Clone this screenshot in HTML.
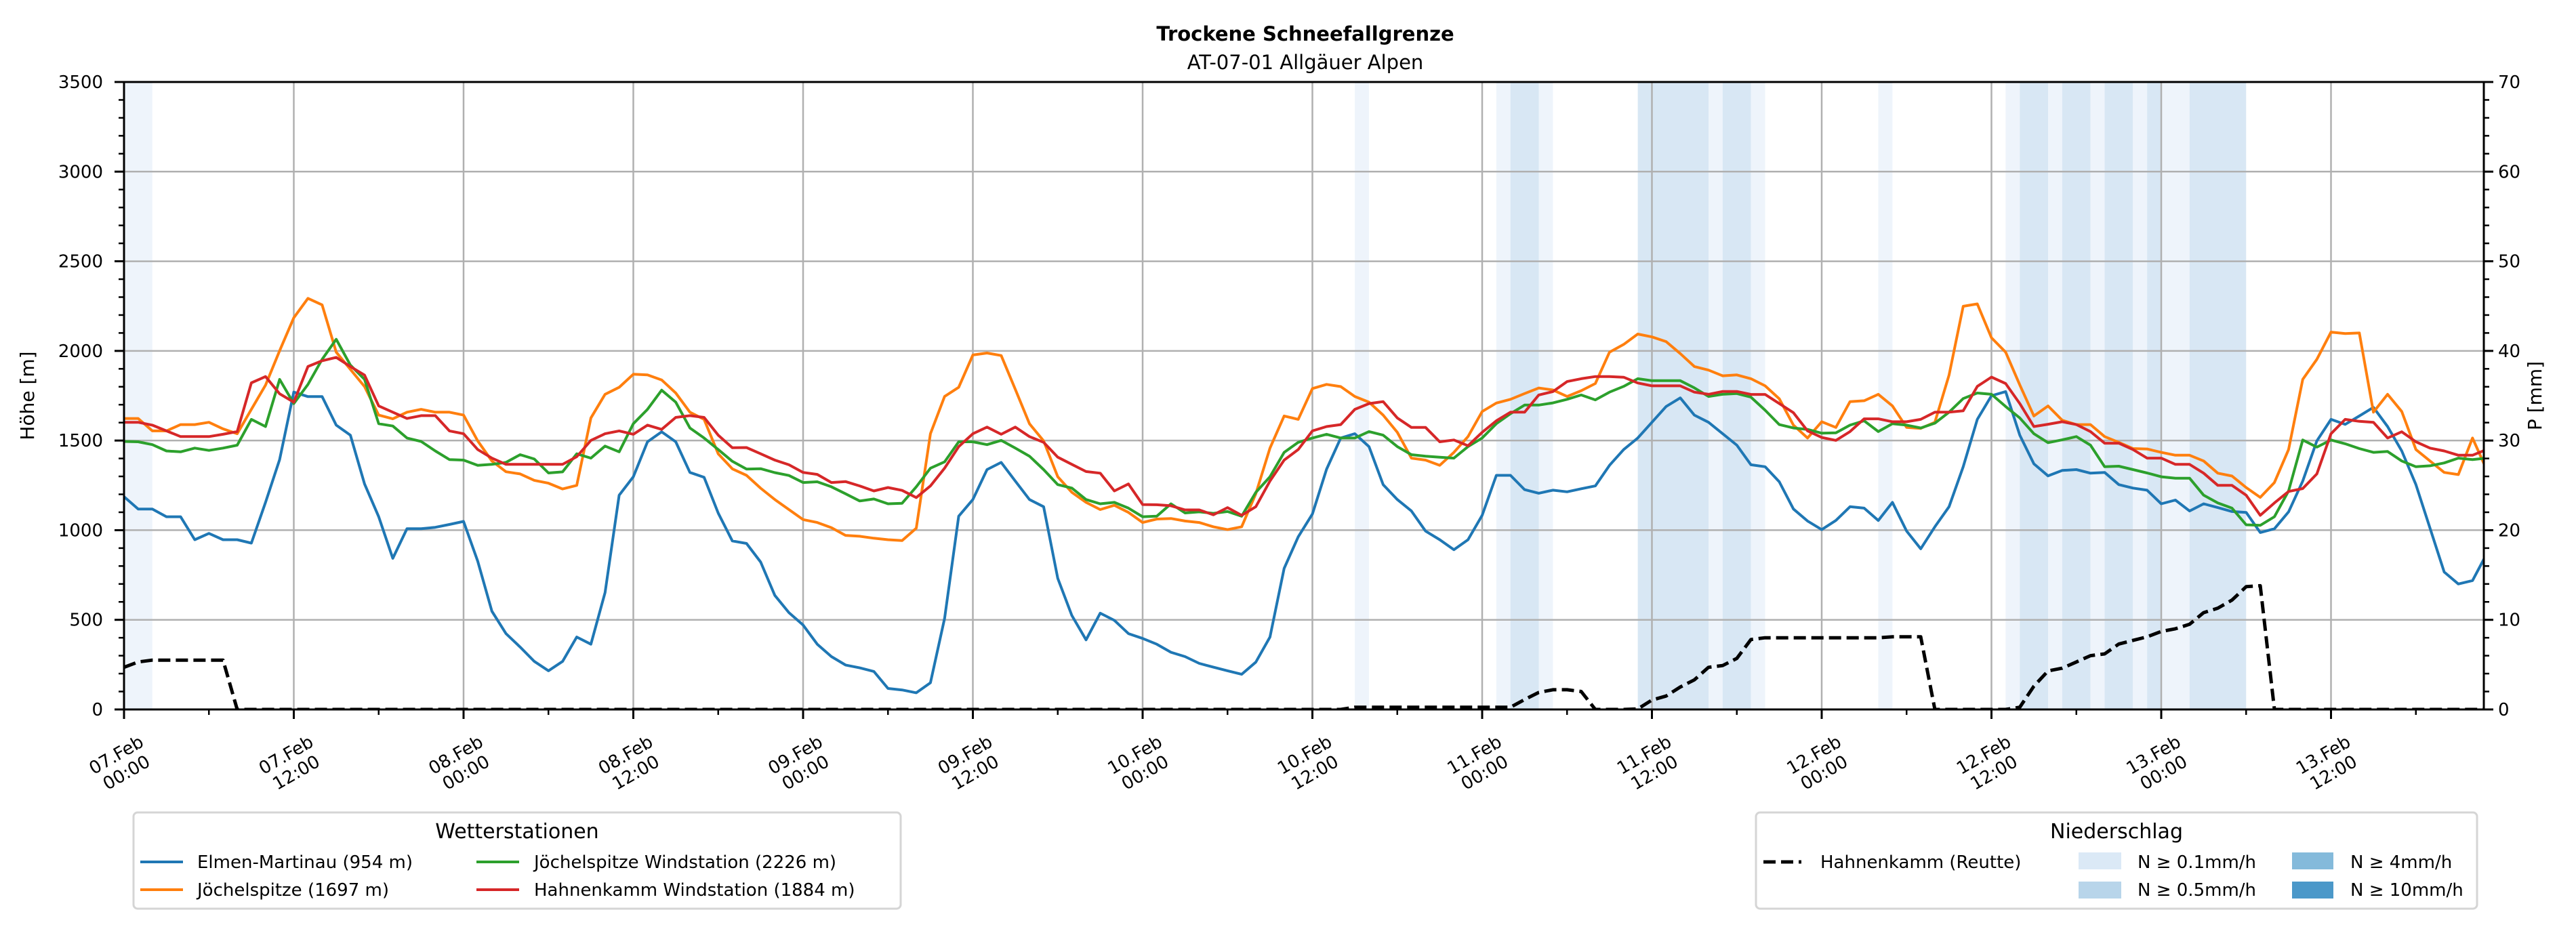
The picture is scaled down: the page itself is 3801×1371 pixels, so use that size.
<!DOCTYPE html>
<html><head><meta charset="utf-8"><style>
html,body{margin:0;padding:0;background:#fff;}
svg{display:block;font-family:"DejaVu Sans","Liberation Sans",sans-serif;}
</style></head><body>
<svg id="chart" width="3801" height="1371" viewBox="0 0 3801 1371">
  <rect x="0" y="0" width="3801" height="1371" fill="#fff"/>
  <text x="1926" y="60" text-anchor="middle" font-size="29" font-weight="bold">Trockene Schneefallgrenze</text>
  <text x="1926" y="102" text-anchor="middle" font-size="29">AT-07-01 Allgäuer Alpen</text>
  <defs><clipPath id="pc"><rect x="183" y="121" width="3482" height="926"/></clipPath></defs>
  <g id="bands" clip-path="url(#pc)"></g>
  <g id="grid"></g>
  <g id="series" clip-path="url(#pc)"></g>
  <g id="axes"></g>
  <text transform="translate(50,584) rotate(-90)" text-anchor="middle" font-size="28">Höhe [m]</text>
  <text transform="translate(3750,584) rotate(-90)" text-anchor="middle" font-size="28">P [mm]</text>

  <g>
    <rect x="197" y="1199" width="1132" height="142" rx="6" fill="#fff" stroke="#d5d5d5" stroke-width="3"/>
    <text x="763" y="1237" text-anchor="middle" font-size="30">Wetterstationen</text>
    <line x1="207" y1="1272" x2="270" y2="1272" stroke="#1f77b4" stroke-width="4"/>
    <text x="291" y="1281" font-size="26">Elmen-Martinau (954 m)</text>
    <line x1="207" y1="1313" x2="270" y2="1313" stroke="#ff7f0e" stroke-width="4"/>
    <text x="291" y="1322" font-size="26">Jöchelspitze (1697 m)</text>
    <line x1="703" y1="1272" x2="766" y2="1272" stroke="#2ca02c" stroke-width="4"/>
    <text x="788" y="1281" font-size="26">Jöchelspitze Windstation (2226 m)</text>
    <line x1="703" y1="1313" x2="766" y2="1313" stroke="#d62728" stroke-width="4"/>
    <text x="788" y="1322" font-size="26">Hahnenkamm Windstation (1884 m)</text>
  </g>
  <g>
    <rect x="2591" y="1199" width="1064" height="142" rx="6" fill="#fff" stroke="#d5d5d5" stroke-width="3"/>
    <text x="3123" y="1237" text-anchor="middle" font-size="30">Niederschlag</text>
    <line x1="2602" y1="1272" x2="2658" y2="1272" stroke="#000" stroke-width="5" stroke-dasharray="18,8"/>
    <text x="2686" y="1281" font-size="26">Hahnenkamm (Reutte)</text>
    <rect x="3067" y="1258" width="63" height="25" fill="#dbe9f6"/>
    <text x="3154" y="1281" font-size="26">N ≥ 0.1mm/h</text>
    <rect x="3067" y="1301" width="63" height="25" fill="#b8d5ea"/>
    <text x="3154" y="1322" font-size="26">N ≥ 0.5mm/h</text>
    <rect x="3382" y="1258" width="61" height="25" fill="#84badb"/>
    <text x="3468" y="1281" font-size="26">N ≥ 4mm/h</text>
    <rect x="3382" y="1301" width="61" height="25" fill="#4b98c9"/>
    <text x="3468" y="1322" font-size="26">N ≥ 10mm/h</text>
  </g>
</svg>
<script>
const elmen = [1187,1118,1118,1075,1075,947,982,947,947,928,1155,1394,1770,1745,1745,1586,1530,1258,1075,843,1008,1008,1016,1032,1049,827,548,423,348,268,216,268,404,364,652,1195,1298,1493,1549,1493,1322,1295,1095,940,926,822,636,540,471,364,295,248,232,212,117,109,93,149,508,1078,1171,1338,1378,1274,1171,1131,731,524,388,537,497,423,396,364,319,295,257,236,216,196,264,404,787,963,1090,1340,1514,1538,1466,1254,1171,1107,995,947,891,947,1083,1306,1306,1226,1206,1223,1214,1231,1247,1362,1450,1514,1602,1690,1738,1642,1602,1538,1474,1365,1354,1270,1118,1051,1003,1054,1131,1123,1054,1155,995,896,1019,1131,1354,1618,1750,1773,1530,1370,1303,1333,1338,1318,1322,1254,1235,1223,1147,1168,1107,1147,1126,1104,1099,987,1008,1102,1274,1498,1618,1590,1637,1685,1578,1442,1254,1011,767,700,719,867];
const joechel = [1623,1623,1554,1554,1589,1589,1602,1565,1538,1674,1809,2001,2185,2293,2257,1993,1897,1801,1642,1621,1658,1674,1658,1658,1642,1498,1386,1326,1314,1278,1262,1230,1250,1626,1758,1797,1870,1866,1838,1765,1658,1618,1426,1342,1306,1234,1171,1115,1059,1043,1014,971,966,955,947,942,1011,1538,1746,1797,1977,1988,1974,1786,1594,1498,1298,1211,1155,1115,1139,1099,1043,1062,1065,1051,1043,1019,1003,1019,1203,1458,1637,1618,1790,1813,1801,1746,1714,1642,1546,1402,1391,1362,1434,1522,1662,1709,1730,1762,1793,1782,1746,1778,1818,1993,2036,2094,2078,2052,1985,1913,1893,1861,1866,1845,1805,1733,1586,1514,1605,1573,1717,1722,1758,1693,1573,1568,1602,1865,2249,2262,2073,1993,1810,1637,1693,1613,1589,1589,1522,1490,1455,1453,1434,1418,1418,1386,1318,1302,1238,1183,1266,1450,1841,1953,2105,2097,2100,1658,1758,1662,1450,1386,1322,1310,1514,1338];
const joechelWind = [1495,1493,1477,1442,1437,1458,1445,1458,1474,1618,1578,1841,1706,1813,1953,2065,1921,1841,1594,1581,1514,1495,1442,1394,1391,1362,1367,1378,1421,1397,1319,1325,1426,1402,1469,1437,1594,1674,1781,1714,1570,1514,1450,1384,1341,1343,1321,1305,1266,1270,1242,1203,1163,1174,1147,1150,1242,1346,1381,1493,1493,1477,1501,1458,1413,1338,1254,1235,1171,1147,1155,1123,1075,1078,1147,1096,1102,1094,1104,1078,1211,1298,1434,1490,1514,1535,1514,1514,1550,1530,1466,1421,1413,1407,1402,1466,1514,1594,1650,1698,1698,1710,1730,1754,1727,1770,1802,1845,1834,1834,1834,1794,1746,1758,1762,1742,1669,1589,1570,1562,1541,1543,1586,1610,1550,1594,1586,1570,1597,1658,1734,1765,1758,1690,1626,1538,1488,1504,1522,1474,1354,1357,1338,1319,1298,1290,1290,1195,1152,1123,1030,1027,1075,1219,1503,1463,1503,1482,1455,1434,1439,1386,1354,1359,1375,1402,1394,1402];
const hahnWind = [1602,1602,1586,1554,1522,1522,1522,1535,1550,1822,1857,1761,1714,1913,1945,1964,1913,1865,1693,1658,1623,1639,1639,1554,1538,1450,1402,1367,1367,1367,1367,1367,1410,1501,1538,1554,1535,1586,1562,1629,1639,1629,1530,1460,1461,1426,1391,1365,1322,1311,1266,1271,1247,1219,1238,1222,1182,1247,1346,1466,1538,1575,1535,1575,1522,1490,1407,1367,1327,1318,1219,1258,1143,1142,1136,1113,1113,1086,1126,1083,1131,1274,1391,1450,1554,1578,1589,1674,1706,1717,1626,1573,1573,1493,1503,1471,1546,1610,1658,1658,1754,1773,1829,1845,1857,1857,1853,1821,1805,1805,1805,1770,1758,1774,1774,1757,1757,1706,1655,1554,1517,1501,1550,1621,1621,1605,1605,1618,1658,1658,1666,1802,1854,1818,1706,1578,1591,1605,1589,1550,1485,1485,1450,1402,1402,1367,1367,1318,1250,1250,1195,1083,1152,1216,1232,1314,1538,1618,1607,1602,1514,1549,1493,1458,1442,1418,1418,1450];
const reutteMm = [4.7,5.3,5.5,5.5,5.5,5.5,5.5,5.5,
0,0,0,0,0,0,0,0,0,0,
0,0,0,0,0,0,0,0,0,0,
0,0,0,0,0,0,0,0,0,0,
0,0,0,0,0,0,0,0,0,0,
0,0,0,0,0,0,0,0,0,0,
0,0,0,0,0,0,0,0,0,0,
0,0,0,0,0,0,0,0,0,0,
0,0,0,0,0,0,0,0,0,
0.25,0.25,0.25,0.25,0.25,0.25,0.25,0.25,0.25,0.25,0.25,0.25,
1.1,1.9,2.2,2.2,2.0,
0,0,0,0.05,
1.05,1.5,2.5,3.3,4.7,4.9,5.7,7.8,
8.0,8.0,8.0,8.0,8.0,8.0,8.0,8.0,8.0,
8.1,8.1,8.1,
0,0,0,0,0,0,
0.25,2.6,4.3,4.6,5.3,6.0,6.2,7.3,7.7,8.1,8.7,9.0,9.5,10.8,11.3,12.2,13.7,13.8,
0,0,0,0,0,0,0,0,0,0,0,0,0,0,0,0];
const bandStart = [0,87,97,98,100,107,112,113,115,124,133,134,136,137,139,140,142,143,144,146];
const bandEnd   = [2,88,98,100,101,112,113,115,116,125,134,136,137,139,140,142,143,144,146,150];
const bandLevel = [1,1,1,2,1,2,1,2,1,1,1,2,1,2,1,2,1,2,1,2];
const leftTicks = [0,500,1000,1500,2000,2500,3000,3500];
const rightTicks = [0,10,20,30,40,50,60,70];
const xTickHours = [0,12,24,36,48,60,72,84,96,108,120,132,144,156];
const xTickDays = ["07.Feb","07.Feb","08.Feb","08.Feb","09.Feb","09.Feb","10.Feb","10.Feb","11.Feb","11.Feb","12.Feb","12.Feb","13.Feb","13.Feb"];
const xTickTimes = ["00:00","12:00","00:00","12:00","00:00","12:00","00:00","12:00","00:00","12:00","00:00","12:00","00:00","12:00"];

const NS = "http://www.w3.org/2000/svg";
const X0 = 183, X1 = 3665, Y0 = 121, Y1 = 1047, PXH = 20.875;
const xS = h => X0 + h * PXH;
const yL = v => Y1 - v / 3500 * (Y1 - Y0);
const yR = v => Y1 - v / 70 * (Y1 - Y0);
function mk(tag, attrs, parent) {
  const e = document.createElementNS(NS, tag);
  for (const k in attrs) e.setAttribute(k, attrs[k]);
  parent.appendChild(e);
  return e;
}
const gB = document.getElementById('bands');
bandStart.forEach((s, i) => {
  const r = mk('rect', {x: xS(s), y: Y0, width: xS(bandEnd[i]) - xS(s), height: Y1 - Y0, fill: bandLevel[i] === 2 ? '#d8e7f4' : '#eef4fb'}, gB);
  
  
});
const gG = document.getElementById('grid');
leftTicks.forEach(v => {
  const l = mk('line', {x1: X0, x2: X1, y1: yL(v), y2: yL(v), stroke: '#b0b0b0', 'stroke-width': 2.5}, gG);
  
  
});
xTickHours.forEach(h => {
  const l = mk('line', {x1: xS(h), x2: xS(h), y1: Y0, y2: Y1, stroke: '#b0b0b0', 'stroke-width': 2.5}, gG);
  
  
});
const gS = document.getElementById('series');
function line(vals, scale, color, name, dash) {
  const pts = vals.map((v, i) => xS(i).toFixed(1) + ',' + scale(v).toFixed(1)).join(' ');
  const p = mk('polyline', {points: pts, fill: 'none', stroke: color, 'stroke-width': dash ? 5 : 4, 'stroke-linejoin': 'round'}, gS);
  if (dash) p.setAttribute('stroke-dasharray', '18,8');
  
  
}
line(elmen, yL, '#1f77b4', 'series-elmen-martinau');
line(joechel, yL, '#ff7f0e', 'series-joechelspitze');
line(joechelWind, yL, '#2ca02c', 'series-joechelspitze-windstation');
line(hahnWind, yL, '#d62728', 'series-hahnenkamm-windstation');
line(reutteMm, yR, '#000', 'series-hahnenkamm-reutte', true);

const gA = document.getElementById('axes');
const fr = mk('rect', {x: X0, y: Y0, width: X1 - X0, height: Y1 - Y0, fill: 'none', stroke: '#000', 'stroke-width': 3}, gA);


for (let v = 0; v <= 3500; v += 100) {
  const major = v % 500 === 0;
  const t = mk('line', {x1: X0 - (major ? 14 : 8), x2: X0, y1: yL(v), y2: yL(v), stroke: '#000', 'stroke-width': major ? 3 : 2.5}, gA);
  
  
  const t2 = mk('line', {x1: X1, x2: X1 + (major ? 14 : 8), y1: yL(v), y2: yL(v), stroke: '#000', 'stroke-width': major ? 3 : 2.5}, gA);
  
  
}
leftTicks.forEach(v => {
  const t = mk('text', {x: 152, y: yL(v) + 9, 'text-anchor': 'end', 'font-size': 26}, gA);
  t.textContent = v;
  
  
});
rightTicks.forEach(v => {
  const t = mk('text', {x: 3686, y: yR(v) + 9, 'font-size': 26}, gA);
  t.textContent = v;
  
  
});
for (let h = 0; h <= 166; h += 6) {
  const major = h % 12 === 0;
  const t = mk('line', {x1: xS(h), x2: xS(h), y1: Y1, y2: Y1 + (major ? 14 : 8), stroke: '#000', 'stroke-width': major ? 3 : 2.5}, gA);
  
  
}
xTickHours.forEach((h, i) => {
  const cx = xS(h) - 4, cy = 1127;
  const t = mk('text', {transform: 'translate(' + cx + ',' + cy + ') rotate(-30)', 'text-anchor': 'middle', 'font-size': 26}, gA);
  const a = mk('tspan', {x: 0, y: -6}, t); a.textContent = xTickDays[i];
  const b = mk('tspan', {x: 0, y: 24}, t); b.textContent = xTickTimes[i];
  
  
});
</script>
</body></html>
